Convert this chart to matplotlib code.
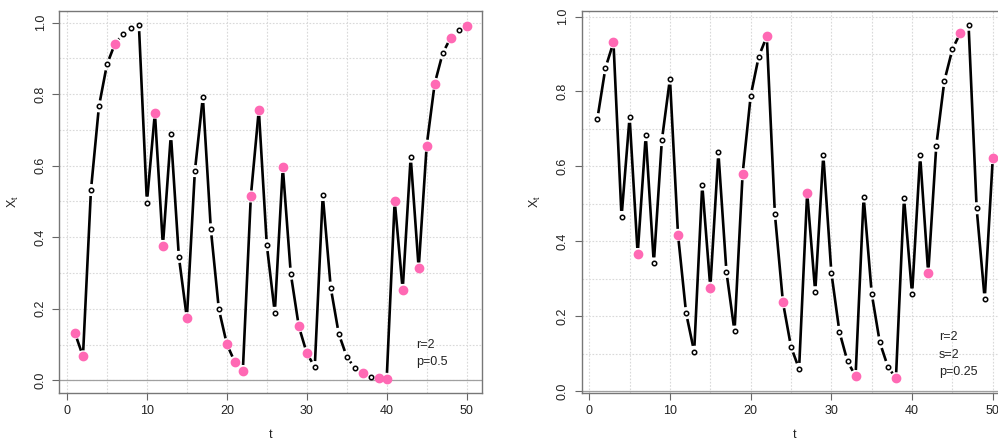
import numpy as np
import matplotlib
matplotlib.use("Agg")
from matplotlib import pyplot as plt
from matplotlib.collections import LineCollection

plt.rcParams['font.family'] = ['Liberation Sans', 'DejaVu Sans']

t = np.arange(1, 51)

# left panel: r=2, p=0.5
x_left = [0.132, 0.067, 0.532, 0.766, 0.883, 0.941, 0.969, 0.985, 0.993, 0.497,
          0.748, 0.376, 0.688, 0.345, 0.174, 0.585, 0.792, 0.422, 0.199, 0.101,
          0.051, 0.026, 0.514, 0.756, 0.378, 0.189, 0.596, 0.298, 0.151, 0.076,
          0.037, 0.518, 0.259, 0.130, 0.066, 0.034, 0.020, 0.008, 0.006, 0.004,
          0.502, 0.253, 0.625, 0.313, 0.656, 0.829, 0.914, 0.958, 0.979, 0.990]
pink_left = [1, 2, 6, 11, 12, 15, 20, 21, 22, 23, 24, 27, 29, 30, 37, 39, 40,
             41, 42, 44, 45, 46, 48, 50]
text_left = ['r=2', 'p=0.5']

# right panel: r=2, s=2, p=0.25
x_right = [0.726, 0.862, 0.931, 0.465, 0.732, 0.366, 0.683, 0.341, 0.670, 0.834,
           0.417, 0.208, 0.105, 0.551, 0.276, 0.637, 0.318, 0.159, 0.579, 0.788,
           0.893, 0.947, 0.473, 0.237, 0.118, 0.059, 0.530, 0.264, 0.631, 0.316,
           0.158, 0.079, 0.040, 0.519, 0.260, 0.130, 0.065, 0.034, 0.516, 0.258,
           0.629, 0.314, 0.655, 0.828, 0.913, 0.957, 0.978, 0.488, 0.245, 0.622]
pink_right = [3, 6, 11, 15, 19, 22, 24, 27, 33, 38, 42, 46, 50]
text_right = ['r=2', 's=2', 'p=0.25']

PINK = '#ff69b4'
W, H = 998, 441


def gapped_line(ax, xs, ys, gap=6.0):
    # R type="b": segments stop short of each point
    fig = ax.figure
    fig.canvas.draw()
    pts = ax.transData.transform(np.column_stack([xs, ys]))
    inv = ax.transData.inverted()
    segs = []
    for p0, p1 in zip(pts[:-1], pts[1:]):
        d = np.hypot(*(p1 - p0))
        if d <= 2 * gap:
            continue
        u = (p1 - p0) / d
        segs.append(inv.transform(np.array([p0 + u * gap, p1 - u * gap])))
    ax.add_collection(LineCollection(segs, colors='black', linewidths=1.9,
                                     capstyle='butt', zorder=3))


def panel(ax, xs, pink, labels, ylim, label_pos):
    ax.set_xlim(-0.96, 51.96)
    ax.set_ylim(*ylim)
    for gx in np.arange(0, 51, 5):
        ax.axvline(gx, color='#d9d9d9', lw=0.8, ls=(0, (1.5, 1.5)), zorder=0)
    for gy in np.arange(0, 1.01, 0.1):
        ax.axhline(gy, color='#d9d9d9', lw=0.8, ls=(0, (1.5, 1.5)), zorder=0)
    ax.axhline(0, color='#a0a0a0', lw=0.9, zorder=1)
    gapped_line(ax, t, xs)
    ax.plot(t, xs, ls='none', marker='o', ms=3.2, mfc='white', mec='black',
            mew=1.1, zorder=4)
    idx = np.array(pink) - 1
    ax.plot(t[idx], np.array(xs)[idx], ls='none', marker='o', ms=6.0,
            mfc=PINK, mec=PINK, zorder=5)
    ax.set_xticks([0, 10, 20, 30, 40, 50])
    ax.set_yticks([0.0, 0.2, 0.4, 0.6, 0.8, 1.0])
    ax.set_yticklabels(['0.0', '0.2', '0.4', '0.6', '0.8', '1.0'],
                       rotation=90, va='center')
    ax.tick_params(direction='out', length=5, width=0.8, color='#666666',
                   labelsize=9, labelcolor='#222222', pad=4)
    for s in ax.spines.values():
        s.set_color('#777777')
        s.set_linewidth(1.0)
    ax.set_xlabel('t', fontsize=9, color='#222222', labelpad=8)
    ax.set_ylabel('$\\mathregular{X_t}$', fontsize=9, color='#222222', labelpad=10)
    lx, ly, dy = label_pos
    for i, s in enumerate(labels):
        ax.text(lx, ly - i * dy, s, transform=ax.transAxes, fontsize=9,
                color='#222222', ha='left', va='center')


fig = plt.figure(figsize=(W / 100, H / 100), dpi=100)
ax1 = fig.add_axes([59.3 / W, 48 / H, 423 / W, 382 / H])
ax2 = fig.add_axes([581.5 / W, 48 / H, 427.1 / W, 382 / H])

panel(ax1, x_left, pink_left, text_left, (-0.0356, 1.0326),
      ((416 - 59.3) / 423, (393 - 345) / 382, 16.7 / 382))
panel(ax2, x_right, pink_right, text_right, (-0.0053, 1.0147),
      ((939 - 581.5) / 427.1, (393 - 336.7) / 382, 17.8 / 382))

fig.savefig('out.png', dpi=100)
plt.close()
